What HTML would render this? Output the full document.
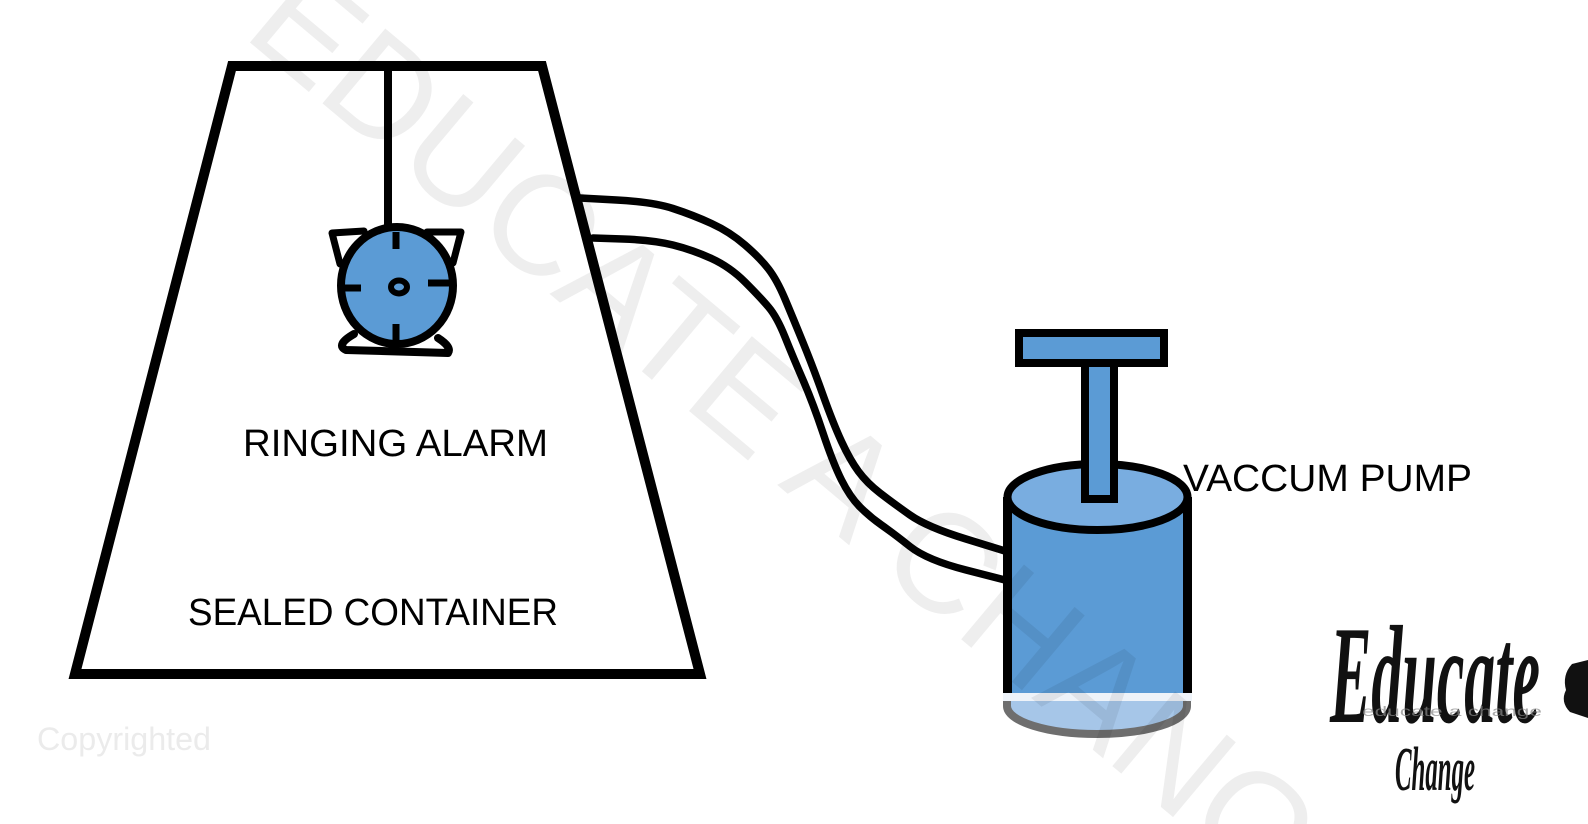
<!DOCTYPE html>
<html>
<head>
<meta charset="utf-8">
<style>
html,body{margin:0;padding:0;background:#fff;}
body{width:1588px;height:824px;overflow:hidden;}
svg{display:block;}
</style>
</head>
<body>
<svg width="1588" height="824" viewBox="0 0 1588 824" xmlns="http://www.w3.org/2000/svg">
<defs>
<clipPath id="frame"><rect x="0" y="0" width="1588" height="824"/></clipPath>
</defs>
<rect x="0" y="0" width="1588" height="824" fill="#ffffff"/>

<!-- tube -->
<g fill="none" stroke="#000" stroke-width="7.5" stroke-linecap="round" stroke-linejoin="round">
<path d="M580,198 L616.5,200 Q653,202 673,208.5 Q693,215 711.5,223.5 Q730,232 745,245 Q760,258 768.5,269 Q777,280 785,299 Q793,318 803,342.5 Q813,367 823,395 Q833,423 841.5,441.5 Q850,460 858.5,471.5 Q867,483 880,493 Q893,503 910,515 Q927,527 966,539 L1005,551"/>
<path d="M593,238 L623,239 Q653,240 673,245 Q693,250 711.5,258.5 Q730,267 745,282 Q760,297 768.5,307 Q777,317 785,337 Q793,357 803,380 Q813,403 823,433 Q833,463 841.5,480 Q850,497 860,507 Q870,517 881.5,525 Q893,533 910,546.5 Q927,560 966,570 L1005,580"/>
</g>

<!-- container -->
<polygon points="232,66 542,66 700,674 75,674" fill="none" stroke="#000" stroke-width="10" stroke-linejoin="miter"/>

<!-- string -->
<line x1="388" y1="61" x2="388" y2="228" stroke="#000" stroke-width="8"/>

<!-- alarm -->
<g stroke="#000" stroke-linecap="round" stroke-linejoin="round">
<path d="M364,231 L332,233 L340,264" fill="#fff" stroke-width="7"/>
<path d="M427,232 L461,232 L453,263" fill="#fff" stroke-width="7"/>
<path d="M354,334 Q335,345 346,350 L448,353 Q452,347 438,338" fill="#fff" stroke-width="8"/>
<ellipse cx="397" cy="285.5" rx="56" ry="58.5" fill="#5b9bd5" stroke-width="8"/>
<g stroke-width="7" stroke-linecap="butt">
<line x1="396" y1="232" x2="396" y2="249"/>
<line x1="396" y1="324" x2="396" y2="346"/>
<line x1="343" y1="288" x2="361" y2="288"/>
<line x1="428" y1="283" x2="450" y2="283"/>
</g>
<ellipse cx="399" cy="287" rx="8" ry="6.5" fill="#5b9bd5" stroke-width="6"/>
</g>

<!-- pump -->
<path d="M1007,698 L1007,706 A90,28 0 0 0 1187,706 L1187,698 Z" fill="#a6c6e8"/>
<path d="M1007,698 L1007,706 A90,28 0 0 0 1187,706 L1187,698" fill="none" stroke="#6e6e6e" stroke-width="8"/>
<rect x="1003" y="693" width="189" height="8" fill="#eef3f9"/>
<rect x="1007" y="497" width="180" height="196" fill="#5b9bd5"/>
<line x1="1007.5" y1="497" x2="1007.5" y2="693" stroke="#000" stroke-width="9"/>
<line x1="1187.5" y1="497" x2="1187.5" y2="693" stroke="#000" stroke-width="9"/>
<ellipse cx="1097.5" cy="497" rx="90" ry="33" fill="#79ade0" stroke="#000" stroke-width="8"/>
<rect x="1085" y="360" width="29" height="139" fill="#5b9bd5" stroke="#000" stroke-width="8"/>
<rect x="1019" y="333" width="145" height="30" fill="#5b9bd5" stroke="#000" stroke-width="8"/>

<!-- labels -->
<g font-family="'Liberation Sans', sans-serif" font-size="38" fill="#000">
<text x="243" y="456" textLength="305" lengthAdjust="spacingAndGlyphs">RINGING ALARM</text>
<text x="188" y="625" textLength="370" lengthAdjust="spacingAndGlyphs">SEALED CONTAINER</text>
<text x="1183" y="491" textLength="289" lengthAdjust="spacingAndGlyphs">VACCUM PUMP</text>
</g>

<!-- copyrighted -->
<text x="37" y="750" font-family="'Liberation Sans', sans-serif" font-size="32" fill="#ebebeb" textLength="174" lengthAdjust="spacingAndGlyphs">Copyrighted</text>

<!-- logo -->
<g font-family="'Liberation Serif', serif" font-style="italic" font-weight="bold" fill="#111">
<text x="1330" y="722" font-size="140" textLength="210" lengthAdjust="spacingAndGlyphs">Educate</text>
<text x="1395" y="790" font-size="62" textLength="80" lengthAdjust="spacingAndGlyphs">Change</text>
</g>
<text x="1362" y="716" font-family="'Liberation Sans', sans-serif" font-size="14" fill="#888" opacity="0.7" textLength="180" lengthAdjust="spacingAndGlyphs">educate a change</text>
<path d="M1588,660 L1572,664 Q1562,675 1566,690 Q1560,702 1570,712 L1588,718 Z" fill="#111"/>

<!-- watermark -->
<g clip-path="url(#frame)">
<text x="241" y="35" transform="rotate(40 241 35)" font-family="'Liberation Sans', sans-serif" font-size="142" fill="#000" fill-opacity="0.065">EDUCATE A CHANG</text>
</g>
</svg>
</body>
</html>
